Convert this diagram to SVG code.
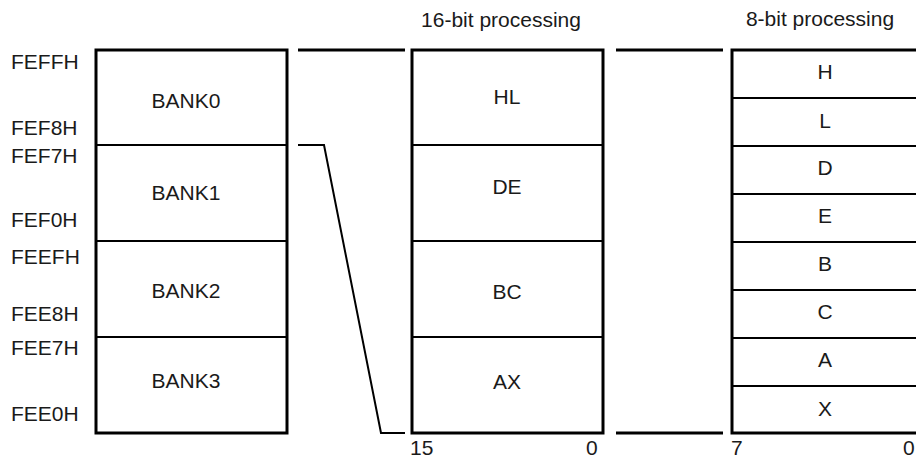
<svg xmlns="http://www.w3.org/2000/svg" width="916" height="458" viewBox="0 0 916 458">
<style>
text{font-family:"Liberation Sans",Arial,sans-serif;font-size:21px;fill:#1a1a1a}
.c{text-anchor:middle}
.box{fill:#fff;stroke:#000;stroke-width:3}
.div{stroke:#000;stroke-width:2;fill:none}
.ln{stroke:#000;stroke-width:3;fill:none}
.con{stroke:#000;stroke-width:2;fill:none}
</style>
<rect width="916" height="458" fill="#fff"/>
<g id="titles">
<text x="501" y="27" class="c">16-bit processing</text>
<text x="820" y="26" class="c">8-bit processing</text>
</g>
<g id="addresses">
<text x="11" y="69">FEFFH</text>
<text x="11" y="135">FEF8H</text>
<text x="11" y="163">FEF7H</text>
<text x="11" y="227">FEF0H</text>
<text x="11" y="264">FEEFH</text>
<text x="11" y="321">FEE8H</text>
<text x="11" y="355">FEE7H</text>
<text x="11" y="421">FEE0H</text>
</g>
<g id="banks">
<rect class="box" x="96" y="50" width="191" height="383"/>
<line class="div" x1="96" y1="145" x2="287" y2="145"/>
<line class="div" x1="96" y1="241" x2="287" y2="241"/>
<line class="div" x1="96" y1="337" x2="287" y2="337"/>
<text x="186" y="108" class="c">BANK0</text>
<text x="186" y="200" class="c">BANK1</text>
<text x="186" y="298" class="c">BANK2</text>
<text x="186" y="388" class="c">BANK3</text>
</g>
<g id="reg16">
<rect class="box" x="412" y="50" width="191" height="383"/>
<line class="div" x1="412" y1="145" x2="603" y2="145"/>
<line class="div" x1="412" y1="241" x2="603" y2="241"/>
<line class="div" x1="412" y1="337" x2="603" y2="337"/>
<text x="507" y="104" class="c">HL</text>
<text x="507" y="194" class="c">DE</text>
<text x="507" y="299" class="c">BC</text>
<text x="507" y="389" class="c">AX</text>
<text x="410" y="455">15</text>
<text x="586" y="455">0</text>
</g>
<g id="reg8">
<rect class="box" x="732" y="50" width="200" height="383"/>
<line class="div" x1="732" y1="98" x2="916" y2="98"/>
<line class="div" x1="732" y1="146" x2="916" y2="146"/>
<line class="div" x1="732" y1="194" x2="916" y2="194"/>
<line class="div" x1="732" y1="242" x2="916" y2="242"/>
<line class="div" x1="732" y1="290" x2="916" y2="290"/>
<line class="div" x1="732" y1="338" x2="916" y2="338"/>
<line class="div" x1="732" y1="386" x2="916" y2="386"/>
<text x="825" y="79" class="c">H</text>
<text x="825" y="128" class="c">L</text>
<text x="825" y="175" class="c">D</text>
<text x="825" y="223" class="c">E</text>
<text x="825" y="271" class="c">B</text>
<text x="825" y="319" class="c">C</text>
<text x="825" y="367" class="c">A</text>
<text x="825" y="416" class="c">X</text>
<text x="731" y="455">7</text>
<text x="903" y="455">0</text>
</g>
<g id="connectors">
<line class="ln" x1="298" y1="50" x2="405" y2="50"/>
<line class="ln" x1="616" y1="50" x2="723" y2="50"/>
<line class="ln" x1="616" y1="433" x2="723" y2="433"/>
<polyline class="con" points="298,145 324,145 381,433 405,433"/>
</g>
</svg>
